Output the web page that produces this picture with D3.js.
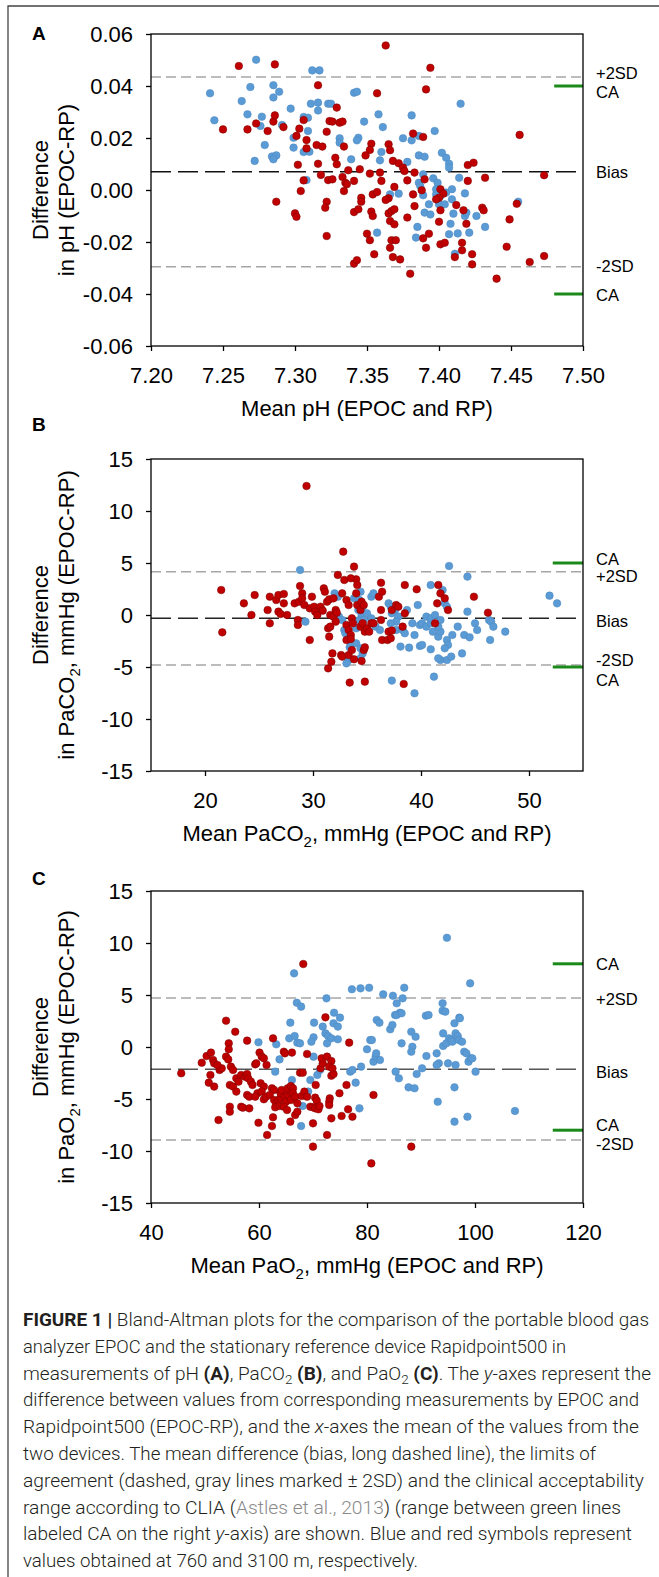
<!DOCTYPE html>
<html>
<head>
<meta charset="utf-8">
<script src="https://cdn.jsdelivr.net/npm/d3@7"></script>
<style>
  body { margin: 0; background: #fff; }
  svg { display: block; font-family: "Liberation Sans", Arial, sans-serif; }
</style>
</head>
<body>
<svg id="chart"></svg>
<script>
// ---- data ----
// [mean, difference]; blue = 760 m, red = 3100 m

const phBlue = [
  [7.241,0.0372],[7.244,0.0268],[7.273,0.0501],[7.269,0.0396],[7.263,0.0342],[7.267,0.0291],[7.277,0.0282],
  [7.276,0.0246],[7.279,0.0173],[7.272,0.0112],[7.284,0.0129],[7.287,0.0133],[7.285,0.0118],[7.285,0.0403],
  [7.289,0.0378],[7.285,0.0356],[7.291,0.025],[7.297,0.0313],[7.299,0.0163],[7.299,0.0201],[7.306,0.0281],
  [7.309,0.0278],[7.306,0.0146],[7.310,0.0147],[7.309,0.0227],[7.312,0.046],[7.317,0.046],[7.311,0.0332],
  [7.316,0.0336],[7.316,0.0306],[7.308,0.0038],[7.323,0.0332],[7.341,0.0374],[7.343,0.0378],[7.325,0.0332],
  [7.348,0.0263],[7.358,0.0291],[7.361,0.0242],[7.381,0.0287],[7.397,0.0227],[7.415,0.0332],[7.331,0.0199],
  [7.331,0.0182],[7.344,0.0201],[7.343,0.0191],[7.339,0.0118],[7.360,0.0146],[7.359,0.0114],[7.375,0.0199],
  [7.381,0.0191],[7.386,0.0208],[7.386,0.0133],[7.390,0.0128],[7.378,0.0108],[7.402,0.0143],[7.405,0.0124],
  [7.407,0.0101],[7.407,0.0086],[7.414,0.0047],[7.389,0.006],[7.396,0.0045],[7.399,0.0028],[7.386,0.0028],
  [7.387,0.0015],[7.366,-0.0017],[7.372,-0.0014],[7.389,-0.002],[7.398,0.0003],[7.405,-0.001],[7.409,0.0003],
  [7.418,-0.0013],[7.455,-0.0045],[7.357,-0.0164],[7.385,-0.0142],[7.384,-0.0183],[7.393,-0.0055],
  [7.390,-0.0087],[7.394,-0.0094],[7.398,-0.0017],[7.401,-0.0023],[7.400,-0.0055],[7.404,-0.0055],
  [7.409,-0.0036],[7.410,-0.0091],[7.408,-0.013],[7.407,-0.017],[7.413,-0.0167],[7.418,-0.01],[7.419,-0.0087],
  [7.421,-0.0164],[7.426,-0.01],[7.432,-0.0142],[7.411,-0.0245]
];

const phRed = [
  [7.261,0.0477],[7.286,0.0483],[7.250,0.0233],[7.267,0.0233],[7.273,0.0256],[7.281,0.0227],[7.285,0.0263],
  [7.286,0.0287],[7.292,0.0242],[7.303,0.0236],[7.301,0.0208],[7.306,0.0269],[7.308,0.0192],[7.308,0.016],
  [7.315,0.0173],[7.319,0.0167],[7.322,0.0224],[7.316,0.0403],[7.302,0.0097],[7.316,0.0101],[7.318,0.0058],
  [7.306,0.0037],[7.324,0.0265],[7.323,0.0038],[7.287,-0.0045],[7.304,-0.0004],[7.300,-0.009],[7.301,-0.0103],
  [7.322,-0.0045],[7.321,-0.0068],[7.322,-0.0177],[7.363,0.0556],[7.394,0.047],[7.357,0.0372],[7.391,0.0387],
  [7.329,0.0317],[7.326,0.0263],[7.331,0.0259],[7.333,0.0263],[7.334,0.0167],[7.353,0.0178],[7.352,0.0154],
  [7.349,0.0133],[7.365,0.0176],[7.366,0.0153],[7.382,0.0217],[7.389,0.0204],[7.328,0.0124],[7.329,0.0099],
  [7.337,0.0076],[7.345,0.008],[7.368,0.0112],[7.372,0.0103],[7.375,0.0086],[7.376,0.0073],[7.383,0.0067],
  [7.420,0.0096],[7.424,0.0105],[7.432,0.0047],[7.456,0.0212],[7.473,0.0057],[7.326,0.0041],[7.333,0.005],
  [7.335,0.0028],[7.336,0.0022],[7.341,0.0035],[7.352,0.0063],[7.359,0.0067],[7.360,0.0035],[7.369,0.0012],
  [7.378,0.0037],[7.390,0.0041],[7.401,0.0003],[7.403,-0.0014],[7.420,0.0035],[7.334,-0.0004],[7.346,-0.003],
  [7.354,-0.0017],[7.357,-0.0008],[7.365,-0.0032],[7.382,-0.0017],[7.388,-0.0001],[7.400,-0.003],
  [7.341,-0.0085],[7.344,-0.0074],[7.346,-0.0045],[7.353,-0.0083],[7.354,-0.01],[7.350,-0.0168],
  [7.352,-0.0193],[7.355,-0.0247],[7.363,-0.0038],[7.365,-0.009],[7.367,-0.0081],[7.369,-0.0074],
  [7.366,-0.0119],[7.369,-0.0132],[7.367,-0.0193],[7.370,-0.0193],[7.366,-0.0222],[7.368,-0.0258],
  [7.373,-0.0267],[7.378,-0.0106],[7.383,-0.0062],[7.380,-0.0322],[7.341,-0.0283],[7.343,-0.027],
  [7.389,-0.0186],[7.393,-0.0168],[7.391,-0.0222],[7.400,-0.0122],[7.401,-0.0209],[7.404,-0.0203],
  [7.401,-0.0078],[7.398,-0.0036],[7.412,-0.0058],[7.417,-0.0078],[7.419,-0.013],[7.416,-0.0203],
  [7.416,-0.0232],[7.411,-0.0258],[7.423,-0.0247],[7.423,-0.0286],[7.430,-0.0068],[7.431,-0.0078],
  [7.440,-0.0341],[7.447,-0.0218],[7.449,-0.0113],[7.454,-0.0053],[7.463,-0.0277],[7.473,-0.0254]
];

const co2Blue = [
  [28.8,4.33],[29.3,-0.64],[32.0,2.08],[32.3,1.76],[32.4,-0.16],[32.7,-0.48],[32.9,-1.44],[33.0,-1.76],
  [33.3,-4.33],[33.1,-4.65],[33.4,-3.1],[33.5,-2.88],[34.0,-2.72],[34.4,-3.2],[33.8,1.6],[34.0,1.76],
  [34.3,1.44],[34.4,2.24],[34.6,0.8],[34.5,0],[34.2,0.48],[34.3,-0.48],[34.7,-0.48],[34.0,-1.28],
  [34.6,-3.69],[34.4,-4.17],[35.4,1.76],[35.6,2.08],[35.0,0.16],[35.4,-0.32],[35.8,-1.12],[36.2,-1.44],
  [37.0,1.12],[37.2,0.8],[37.6,0.48],[37.3,0.16],[37.9,-0.16],[37.7,-0.64],[37.2,-0.8],[37.3,-6.31],
  [37.7,-1.44],[38.3,-1.44],[38.5,-1.76],[38.1,-3.04],[38.9,-3.14],[38.7,0.48],[39.2,-0.8],[39.4,-7.53],
  [39.4,-1.92],[39.7,0.96],[39.9,-0.96],[40.1,-0.8],[40.5,-1.12],[40.9,-0.8],[39.9,-2.98],[40.1,-2.88],
  [40.5,-0.16],[40.9,-0.32],[41.3,0],[40.9,2.88],[40.9,-3.3],[41.1,-1.6],[41.2,-5.93],[41.6,-2.08],
  [41.8,-1.6],[41.6,-1.12],[41.8,-4.33],[41.6,-4.17],[41.8,-0.48],[42.0,2.4],[42.2,1.12],[42.4,0.8],
  [42.4,-2.4],[42.5,-2.88],[42.2,-3.2],[42.6,4.71],[42.4,-4.33],[42.8,-4.0],[42.9,-1.92],[43.4,-1.12],
  [43.8,-3.69],[44.0,-1.92],[44.5,-2.15],[44.3,3.69],[44.3,0.32],[45.0,-0.8],[45.2,-1.44],[46.3,-0.48],
  [46.5,-0.64],[46.7,-1.12],[46.4,-2.4],[47.8,-1.6],[51.9,1.86],[52.6,1.12]
];

const co2Red = [
  [21.5,2.40],[21.6,-1.67],[23.6,1.12],[24.6,1.92],[24.3,0],[25.8,0.48],[26.0,-0.8],[26.0,1.76],[26.6,1.44],
  [26.8,1.92],[27.3,1.12],[27.3,2.02],[26.8,0.32],[27.0,0.1],[27.6,0],[28.3,1.12],[28.7,1.28],[28.8,2.79],
  [29.0,2.08],[29.0,1.6],[28.6,-0.48],[28.6,-0.96],[29.7,-2.4],[29.2,0.96],[29.7,0.64],[30.1,0.8],[30.2,0.32],
  [30.4,0],[29.9,1.76],[30.7,0.8],[30.9,0.42],[31.0,2.56],[31.1,2.24],[31.3,1.28],[31.5,1.5],[31.9,1.6],
  [31.6,0],[31.9,-0.16],[32.1,-0.64],[31.4,-1.28],[31.5,-2.08],[31.6,-1.12],[31.8,-3.69],[31.7,-4.49],
  [31.4,-5.13],[32.1,0.48],[32.2,0.22],[32.3,3.85],[32.7,2.08],[32.9,3.37],[33.1,-0.96],[33.3,-1.44],
  [33.5,-1.92],[33.1,-2.4],[33.5,-2.31],[32.6,-3.85],[32.7,-4.0],[33.1,1.44],[33.3,0.96],[33.6,-0.32],
  [33.7,-0.8],[34.0,3.43],[34.1,2.88],[34.0,2.08],[33.5,3.53],[33.8,4.65],[34.1,0.96],[34.4,0.48],
  [33.3,-3.85],[33.8,-4.26],[33.6,-3.37],[34.4,-1.12],[34.6,-0.8],[34.8,-1.6],[34.5,1.28],[34.7,0.96],
  [34.7,-3.37],[34.8,-3.11],[34.5,-4.42],[33.4,-6.5],[34.8,-6.41],[35.0,-1.28],[35.2,-1.6],[35.4,-0.8],
  [35.6,-0.8],[36.1,1.76],[36.4,2.24],[36.3,0.48],[36.3,-0.48],[36.3,3.1],[36.4,-2.4],[36.9,-2.4],
  [37.2,-2.24],[37.0,-1.6],[37.3,0.48],[37.7,0.96],[37.9,0.8],[37.3,-1.5],[38.5,2.88],[38.3,-1.12],
  [38.4,-6.63],[39.6,2.47],[38.5,0.16],[41.6,2.88],[41.8,2.08],[41.5,1.12],[41.3,-0.8],[42.2,1.6],
  [42.5,0.48],[44.9,1.76],[46.2,0.22],[29.4,12.4],[32.8,6.09]
];

const o2Blue = [
  [66.5,7.08],[67.0,4.26],[67.8,3.88],[72.5,4.68],[94.8,10.5],[99.1,6.12],[77.2,5.55],[78.8,5.64],[80.4,5.7],
  [83.0,5.07],[84.8,4.93],[86.9,5.7],[86.6,4.68],[85.5,4.2],[86.1,3.3],[85.2,3.08],[94.0,4.2],[94.0,3.49],
  [97.1,2.82],[90.9,3.01],[73.9,3.3],[75.0,2.82],[81.8,2.6],[59.9,0.45],[63.2,0.26],[63.0,-2.37],
  [63.8,-1.19],[65.8,2.34],[65.6,0.83],[66.6,1.06],[67.1,0.42],[67.6,0.35],[68.1,-5.67],[67.8,-7.6],
  [66.1,-3.17],[70.2,2.34],[70.1,0.93],[69.7,0.51],[70.1,-0.93],[69.5,-3.17],[69.1,-4.29],[71.8,1.96],
  [72.3,1.31],[72.8,1.06],[73.4,0.83],[72.6,0.35],[73.8,2.28],[74.6,1.96],[74.6,0.74],[70.8,-2.69],
  [71.3,-2.21],[76.9,-2.37],[77.3,-2.21],[77.9,-3.43],[78.6,-5.9],[78.9,-1.89],[80.0,-0.22],[80.6,0.67],
  [80.9,0.67],[81.2,-1.41],[81.6,-0.93],[81.7,-0.61],[82.4,-1.25],[82.3,2.34],[84.3,1.7],[84.7,2.12],
  [85.5,3.08],[86.4,3.24],[85.3,-2.37],[85.9,-3.01],[86.4,0.35],[87.7,-3.88],[88.8,-3.97],[88.2,1.47],
  [89.0,0.99],[88.4,0.03],[88.2,-0.45],[89.2,-2.6],[90.2,-2.05],[91.0,-0.87],[91.4,3.08],[92.9,-0.61],
  [93.3,-1.57],[92.9,-1.73],[93.1,-5.26],[94.5,3.4],[94.1,1.31],[94.1,0.1],[94.7,0.35],[95.2,0.83],
  [95.6,0.67],[95.8,0.51],[96.2,2.28],[96.4,1.31],[96.8,1.06],[97.2,2.76],[97.0,0.67],[97.6,0.51],
  [98.0,-0.45],[98.4,-0.61],[95.0,-1.57],[96.4,-1.73],[96.2,-3.88],[96.2,-7.18],[98.6,-6.7],[98.8,-1.41],
  [99.2,-1.09],[99.5,-1.09],[100.1,-2.37],[107.4,-6.15]
];

const o2Red = [
  [45.6,-2.53],[49.4,-1.51],[50.3,-0.87],[51.1,-0.54],[51.5,-1.25],[51.7,-1.57],[51.0,-2.69],[50.7,-3.43],
  [51.7,-3.81],[52.5,-7.02],[52.7,-2.21],[53.1,-2.05],[52.3,-1.73],[53.9,2.53],[53.9,-0.93],[54.3,-1.19],
  [54.4,0.35],[54.4,-0.22],[54.6,-5.74],[54.6,-6.22],[54.6,-3.65],[55.2,-3.81],[54.8,-1.89],[55.2,-2.21],
  [55.6,1.47],[55.8,-3.01],[56.2,-3.33],[55.8,-4.29],[56.7,-2.69],[57.4,-2.85],[57.8,-2.6],[56.7,-5.74],
  [57.0,-5.83],[57.8,-4.61],[58.2,-4.78],[58.2,-5.9],[57.8,0.61],[58.0,-3.01],[58.5,-3.33],[58.8,-3.65],
  [59.3,-1.67],[59.5,-1.57],[59.7,-4.45],[59.3,-4.78],[60.1,-0.54],[60.5,-0.93],[59.9,-7.28],[60.3,-3.49],
  [60.9,-3.81],[60.5,-4.29],[60.9,-1.09],[60.9,-5.03],[61.3,-4.78],[61.5,-8.46],[61.4,-1.73],[62.4,-3.97],
  [62.8,-4.13],[62.0,-4.61],[62.6,0.83],[62.8,-5.1],[63.2,-5.42],[63.6,-5.1],[62.6,-6.76],[62.4,-7.6],
  [63.0,-5.8],[63.8,-5.67],[64.0,-4.94],[64.0,-4.45],[64.2,-4.13],[64.6,-0.45],[64.8,-0.61],[64.8,-4.78],
  [65.3,-4.61],[65.8,-4.29],[65.0,-5.26],[65.9,-5.1],[65.3,-3.97],[65.9,-3.75],[66.3,-3.97],[64.6,-5.74],
  [65.2,-6.06],[65.8,-7.18],[66.3,-4.45],[66.7,-4.78],[66.1,-0.54],[66.7,-6.54],[67.1,-6.22],[67.1,-5.42],
  [67.6,-2.47],[68.1,-2.47],[67.9,-4.71],[68.4,-4.29],[68.9,-4.78],[68.9,-0.67],[69.5,-5.74],[70.0,-5.8],
  [70.0,-7.34],[70.0,-9.58],[70.4,-4.87],[70.7,-5.16],[70.5,-3.65],[70.4,-5.9],[71.0,-5.99],[71.2,-5.67],
  [71.4,-2.05],[71.8,-1.57],[71.6,-1.09],[72.3,2.85],[72.6,-0.93],[73.4,-1.35],[73.0,-1.89],[73.1,-4.94],
  [73.0,-5.26],[72.6,-8.46],[73.0,-5.58],[73.4,-2.76],[73.8,-2.6],[73.6,-2.05],[73.4,-6.86],[74.9,-4.45],
  [75.3,-6.63],[77.3,-6.7],[76.2,-3.65],[76.5,-5.99],[76.7,0.42],[81.2,-4.61],[80.8,-11.19],[88.2,-9.58],
  [68.2,7.98]
];

// reference lines: [+2SD, bias, -2SD] and clinical acceptability (CA)
const phLines = [0.0435, 0.007, -0.0295];
const phCA = [0.04, -0.04];
const co2Lines = [4.17, -0.32, -4.81];
const co2CA = [5, -5];
const o2Lines = [4.7, -2.15, -8.95];
const o2CA = [8, -8];

const phTicksX = [7.20, 7.25, 7.30, 7.35, 7.40, 7.45, 7.50];
const phTicksY = [-0.06, -0.04, -0.02, 0, 0.02, 0.04, 0.06];
const co2TicksX = [20, 30, 40, 50];
const o2TicksX = [40, 60, 80, 100, 120];
const gasTicksY = [-15, -10, -5, 0, 5, 10, 15];

// ---- layout ----
const width = 659;
const height = 1577;
const plotLeft = 151;
const plotW = 432;
const plotH = 312;
const blue = "#5b9bd5";
const red = "#c00000";

const svg = d3.select("#chart").attr("width", width).attr("height", height);

svg.append("path")
  .attr("d", `M8,${height} V6 H${width}`)
  .attr("fill", "none")
  .attr("stroke", "#444")
  .attr("stroke-width", 1.3);

const panels = [
  {
    letter: "A", letterY: 40, top: 34,
    blue: phBlue, red: phRed, lines: phLines, ca: phCA, caFrom: 7.48,
    xDomain: [7.2, 7.5], yDomain: [-0.06, 0.06], xTicks: phTicksX, yTicks: phTicksY,
    fmt: (d) => d.toFixed(2), biasColor: "#111",
    xTitle: [["Mean pH (EPOC and RP)"]],
    yTitle: [[["Difference"]], [["in pH (EPOC-RP)"]]],
    labels: [["+2SD", phLines[0], -4], ["CA", phCA[0], 6], ["Bias", phLines[1], 0],
             ["-2SD", phLines[2], 0], ["CA", phCA[1], 1]],
  },
  {
    letter: "B", letterY: 431, top: 459,
    blue: co2Blue, red: co2Red, lines: co2Lines, ca: co2CA, caFrom: 52.2,
    xDomain: [15, 55], yDomain: [-15, 15], xTicks: co2TicksX, yTicks: gasTicksY,
    fmt: (d) => String(d), biasColor: "#222",
    xTitle: [["Mean PaCO"], ["2", true], [", mmHg (EPOC and RP)"]],
    yTitle: [[["Difference"]], [["in PaCO"], ["2", true], [", mmHg (EPOC-RP)"]]],
    labels: [["CA", co2CA[0], -4], ["+2SD", co2Lines[0], 5], ["Bias", co2Lines[1], 3],
             ["-2SD", co2Lines[2], -5], ["CA", co2CA[1], 13]],
  },
  {
    letter: "C", letterY: 885, top: 891,
    blue: o2Blue, red: o2Red, lines: o2Lines, ca: o2CA, caFrom: 114.4,
    xDomain: [40, 120], yDomain: [-15, 15], xTicks: o2TicksX, yTicks: gasTicksY,
    fmt: (d) => String(d), biasColor: "#555",
    xTitle: [["Mean PaO"], ["2", true], [", mmHg (EPOC and RP)"]],
    yTitle: [[["Difference"]], [["in PaO"], ["2", true], [", mmHg (EPOC-RP)"]]],
    labels: [["CA", o2CA[0], 0], ["+2SD", o2Lines[0], 1], ["Bias", o2Lines[1], 3],
             ["CA", o2CA[1], -5], ["-2SD", o2Lines[2], 4]],
  },
];

// write text with optional subscript pieces
const addPieces = (text, pieces, size) => {
  pieces.forEach(([s, sub], i) => {
    const t = text.append("tspan").text(s);
    if (sub) t.attr("font-size", size * 0.68).attr("dy", 6);
    else if (i > 0 && pieces[i - 1][1]) t.attr("dy", -6);
  });
};

const styleAxis = (g) => {
  g.attr("font-family", null).attr("font-size", 22);
  g.select(".domain").remove();
  g.selectAll("line").attr("stroke", "#000").attr("stroke-width", 1.3);
  g.selectAll("text").attr("fill", "#000");
};

const drawPanel = (p) => {
  const g = svg.append("g").attr("transform", `translate(${plotLeft},${p.top})`);
  const x = d3.scaleLinear().domain(p.xDomain).range([0, plotW]);
  const y = d3.scaleLinear().domain(p.yDomain).range([plotH, 0]);

  g.append("g")
    .call(d3.axisLeft(y).tickValues(p.yTicks).tickFormat(p.fmt).tickSize(5).tickPadding(13))
    .call(styleAxis);

  g.append("g")
    .attr("transform", `translate(0,${plotH})`)
    .call(d3.axisBottom(x).tickValues(p.xTicks).tickFormat(p.fmt).tickSize(5).tickPadding(16))
    .call(styleAxis);

  // limits of agreement and bias
  g.selectAll(".loa")
    .data(p.lines)
    .enter()
    .append("line")
    .attr("x1", 0)
    .attr("x2", plotW)
    .attr("y1", (d) => y(d))
    .attr("y2", (d) => y(d))
    .attr("stroke", (d, i) => (i === 1 ? p.biasColor : "#a6a6a6"))
    .attr("stroke-width", 1.5)
    .attr("stroke-dasharray", (d, i) => (i === 1 ? "20,7" : "10,5"));

  g.selectAll(".ca")
    .data(p.ca)
    .enter()
    .append("line")
    .attr("x1", x(p.caFrom))
    .attr("x2", plotW)
    .attr("y1", (d) => y(d))
    .attr("y2", (d) => y(d))
    .attr("stroke", "#1a8a1a")
    .attr("stroke-width", 3);

  const dot = (data, fill, edge) => {
    g.append("g")
      .selectAll("circle")
      .data(data)
      .enter()
      .append("circle")
      .attr("cx", (d) => x(d[0]))
      .attr("cy", (d) => y(d[1]))
      .attr("r", 3.8)
      .attr("fill", fill)
      .attr("stroke", edge)
      .attr("stroke-width", 0.5);
  };
  dot(p.blue, blue, "#4a86bf");
  dot(p.red, red, "#7a0000");

  g.append("rect")
    .attr("width", plotW)
    .attr("height", plotH)
    .attr("fill", "none")
    .attr("stroke", "#000")
    .attr("stroke-width", 1.3);

  g.selectAll(".lab")
    .data(p.labels)
    .enter()
    .append("text")
    .attr("x", plotW + 13)
    .attr("y", (d) => y(d[1]) + d[2])
    .attr("dy", "0.35em")
    .attr("font-size", 16.5)
    .text((d) => d[0]);

  const xt = g.append("text")
    .attr("x", plotW / 2)
    .attr("y", plotH + 70)
    .attr("text-anchor", "middle")
    .attr("font-size", 22);
  addPieces(xt, p.xTitle, 22);

  p.yTitle.forEach((pieces, i) => {
    const t = g.append("text")
      .attr("transform", "rotate(-90)")
      .attr("x", -plotH / 2)
      .attr("y", i === 0 ? -103 : -77)
      .attr("text-anchor", "middle")
      .attr("font-size", 22);
    addPieces(t, pieces, 22);
  });

  svg.append("text")
    .attr("x", 32)
    .attr("y", p.letterY)
    .attr("font-size", 19)
    .attr("font-weight", "bold")
    .text(p.letter);
};

panels.forEach(drawPanel);

// ---- caption ----
const captionLines = [
  [["FIGURE 1 |", "b"], [" Bland-Altman plots for the comparison of the portable blood gas"]],
  [["analyzer EPOC and the stationary reference device Rapidpoint500 in"]],
  [["measurements of pH "], ["(A)", "b"], [", PaCO"], ["2", "sub"], [" "], ["(B)", "b"], [", and PaO"], ["2", "sub"],
   [" "], ["(C)", "b"], [". The "], ["y", "i"], ["-axes represent the"]],
  [["difference between values from corresponding measurements by EPOC and"]],
  [["Rapidpoint500 (EPOC-RP), and the "], ["x", "i"], ["-axes the mean of the values from the"]],
  [["two devices. The mean difference (bias, long dashed line), the limits of"]],
  [["agreement (dashed, gray lines marked \u00b1 2SD) and the clinical acceptability"]],
  [["range according to CLIA ("], ["Astles et al., 2013", "g"], [") (range between green lines"]],
  [["labeled CA on the right "], ["y", "i"], ["-axis) are shown. Blue and red symbols represent"]],
  [["values obtained at 760 and 3100 m, respectively."]],
];
const captionWidths = [626, 543, 628, 616, 616, 573, 621, 598, 609, 395];

captionLines.forEach((pieces, i) => {
  const t = svg.append("text")
    .attr("x", 23)
    .attr("y", 1326 + i * 26.8)
    .attr("font-family", "Roboto, 'Liberation Sans', sans-serif")
    .attr("font-weight", 300)
    .attr("font-size", 18.5)
    .attr("fill", "#231f20")
    .attr("textLength", captionWidths[i])
    .attr("lengthAdjust", "spacingAndGlyphs");
  pieces.forEach(([s, style], j) => {
    const ts = t.append("tspan").text(s);
    if (style === "b") ts.attr("font-weight", 700);
    if (style === "i") ts.attr("font-style", "italic");
    if (style === "g") ts.attr("fill", "#8a8a8a");
    if (style === "sub") ts.attr("font-size", 13).attr("dy", 4);
    else if (j > 0 && pieces[j - 1][1] === "sub") ts.attr("dy", -4);
  });
});
</script>
</body>
</html>
